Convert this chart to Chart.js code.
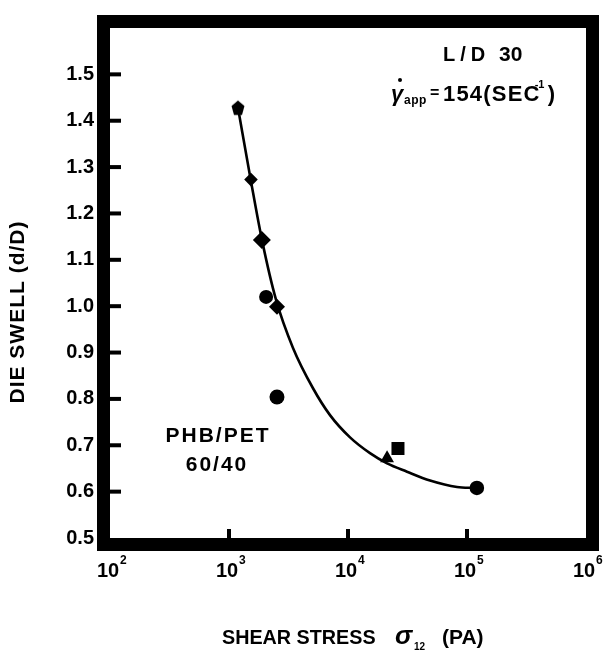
<!DOCTYPE html>
<html>
<head>
<meta charset="utf-8">
<script src="https://cdn.jsdelivr.net/npm/chart.js@4.4.1/dist/chart.umd.min.js"></script>
<style>
  html, body { margin: 0; padding: 0; background: #ffffff; }
  #wrap { width: 604px; height: 656px; position: relative; }
</style>
</head>
<body>
<div id="wrap"><canvas id="c" width="604" height="656"></canvas></div>
<script>
// ---- data ----
const yTickValues = [0.5, 0.6, 0.7, 0.8, 0.9, 1.0, 1.1, 1.2, 1.3, 1.4, 1.5];
const yTickLabels = ['0.5', '0.6', '0.7', '0.8', '0.9', '1.0', '1.1', '1.2', '1.3', '1.4', '1.5'];
const xTickExponents = [2, 3, 4, 5, 6];
const xInnerTicks = [1e3, 1e4, 1e5];

const pointStress = [1190, 1530, 1890, 2050, 2530, 2530, 21300, 26300, 121000];
const pointSwell  = [1.428, 1.273, 1.143, 1.020, 0.999, 0.804, 0.672, 0.693, 0.608];
const pointShape  = ['pentagon', 'rectRot', 'rectRot', 'circle', 'rectRot', 'circle', 'triangle', 'rect', 'circle'];
const pointSize   = [7.5, 6.8, 9, 7, 8, 7.5, 8, 9.2, 7.3];

const curveStress = [1190, 1531, 1892, 2483, 3450, 5080, 7060, 10400, 15300, 21300, 31300, 48900, 82400, 116700];
const curveSwell  = [1.428, 1.269, 1.143, 1.014, 0.910, 0.823, 0.765, 0.717, 0.683, 0.661, 0.643, 0.624, 0.610, 0.608];

// pentagon marker
function makePentagon(r) {
  const c = document.createElement('canvas');
  const s = Math.ceil(r * 2 + 2);
  c.width = s; c.height = s;
  const g = c.getContext('2d');
  g.fillStyle = '#000';
  g.beginPath();
  for (let i = 0; i < 5; i++) {
    const a = -Math.PI / 2 + i * 2 * Math.PI / 5;
    const px = s / 2 + r * 0.85 * Math.cos(a), py = s / 2 + r * Math.sin(a) + 0.8;
    if (i === 0) g.moveTo(px, py); else g.lineTo(px, py);
  }
  g.closePath(); g.fill();
  return c;
}
const pentagonImg = makePentagon(8);

const FONT = "'Liberation Sans', Arial, Helvetica, sans-serif";

function txt(ctx, s, x, y, font, spacing, align) {
  ctx.font = font;
  ctx.letterSpacing = (spacing || 0) + 'px';
  ctx.textAlign = align || 'left';
  ctx.fillText(s, x, y);
  const w = ctx.measureText(s).width;
  ctx.letterSpacing = '0px';
  return w;
}

const decor = {
  id: 'decor',
  afterDraw(chart) {
    const ctx = chart.ctx, ca = chart.chartArea;
    const xs = chart.scales.x, ys = chart.scales.y;
    ctx.save();
    ctx.fillStyle = '#000'; ctx.strokeStyle = '#000';
    ctx.textBaseline = 'alphabetic';
    // heavy frame
    ctx.lineWidth = 13;
    ctx.strokeRect(ca.left - 6.5, ca.top - 6.5, ca.width + 13, ca.height + 13);
    // inward y ticks
    yTickValues.forEach(v => {
      if (v <= 0.5) return;
      const y = ys.getPixelForValue(v);
      ctx.fillRect(ca.left, y - 2, 11, 4);
    });
    // inward x ticks
    xInnerTicks.forEach(v => {
      const x = xs.getPixelForValue(v);
      ctx.fillRect(x - 2, ca.bottom - 9, 4, 9);
    });
    // x tick labels 10^n
    xTickExponents.forEach(e => {
      const x = xs.getPixelForValue(Math.pow(10, e));
      ctx.font = 'bold 20px ' + FONT;
      const w = ctx.measureText('10').width;
      const left = x - 2 - w / 2;
      txt(ctx, '10', left, 577, 'bold 20px ' + FONT, 0, 'left');
      txt(ctx, String(e), left + w + 1, 564, 'bold 12px ' + FONT, 0, 'left');
    });
    // y axis title
    ctx.save();
    ctx.translate(18, 312);
    ctx.rotate(-Math.PI / 2);
    ctx.textBaseline = 'middle';
    txt(ctx, 'DIE SWELL (d/D)', 0, 0, 'bold 21px ' + FONT, 1, 'center');
    ctx.restore();
    ctx.textBaseline = 'alphabetic';

    // x axis title: SHEAR STRESS σ12 (PA)
    ctx.save();
    ctx.translate(222, 0);
    ctx.scale(0.94, 1);
    txt(ctx, 'SHEAR STRESS', 0, 644, 'bold 21px ' + FONT, 0, 'left');
    ctx.restore();
    txt(ctx, 'σ', 395, 644, 'italic bold 26px ' + FONT, 0, 'left');
    txt(ctx, '12', 414, 650, 'bold 10px ' + FONT, 0, 'left');
    txt(ctx, '(PA)', 442, 644, 'bold 21px ' + FONT, 0, 'left');

    // annotations
    txt(ctx, 'L/D', 443, 61, 'bold 20px ' + FONT, 5, 'left');
    txt(ctx, '30', 499, 61, 'bold 21px ' + FONT, 0, 'left');
    // gamma-dot app = 154(SEC^-1)
    txt(ctx, 'γ', 391, 101, 'italic bold 22px ' + FONT, 0, 'left');
    ctx.beginPath(); ctx.arc(400, 80, 2, 0, Math.PI * 2); ctx.fill();
    txt(ctx, 'app', 404, 104, 'bold 12px ' + FONT, 0.5, 'left');
    txt(ctx, '=', 430, 98, 'bold 16px ' + FONT, 0, 'left');
    const w154 = txt(ctx, '154(SEC', 443, 101, 'bold 22px ' + FONT, 1.2, 'left');
    txt(ctx, '-1', 443 + w154 - 6, 88, 'bold 11px ' + FONT, 0, 'left');
    txt(ctx, ')', 443 + w154 + 7, 101, 'bold 22px ' + FONT, 0, 'left');
    // blend label
    txt(ctx, 'PHB/PET', 218, 442, 'bold 21px ' + FONT, 2, 'center');
    txt(ctx, '60/40', 217, 471, 'bold 21px ' + FONT, 2, 'center');
    ctx.restore();
  }
};

new Chart(document.getElementById('c'), {
  data: {
    datasets: [
      {
        type: 'line',
        data: curveStress.map((x, i) => ({ x: x, y: curveSwell[i] })),
        borderColor: '#000', borderWidth: 2.6,
        pointRadius: 0, fill: false,
        cubicInterpolationMode: 'monotone'
      },
      {
        type: 'scatter',
        data: pointStress.map((x, i) => ({ x: x, y: pointSwell[i] })),
        pointStyle: pointShape.map(s => s === 'pentagon' ? pentagonImg : s),
        pointRadius: pointSize,
        backgroundColor: '#000', borderColor: '#000', borderWidth: 0
      }
    ]
  },
  options: {
    responsive: false,
    animation: false,
    events: [],
    layout: { padding: { left: 0, right: 18, top: 20, bottom: 0 } },
    plugins: { legend: { display: false }, tooltip: { enabled: false } },
    scales: {
      x: {
        type: 'logarithmic', min: 100, max: 1e6,
        grid: { display: false, drawTicks: false },
        border: { display: false },
        ticks: { display: false },
        afterFit(s) { s.height = 118; }
      },
      y: {
        type: 'linear', min: 0.5, max: 1.6,
        grid: { display: false, drawTicks: false },
        border: { display: false },
        afterBuildTicks(s) { s.ticks = yTickValues.map(v => ({ value: v })); },
        ticks: {
          color: '#000', padding: 16,
          font: { family: FONT, size: 20, weight: 'bold' },
          callback: (v) => { const i = yTickValues.findIndex(t => Math.abs(t - v) < 1e-9); return i >= 0 ? yTickLabels[i] : ''; }
        },
        afterFit(s) { s.width = 110; }
      }
    }
  },
  plugins: [decor]
});
</script>
</body>
</html>
